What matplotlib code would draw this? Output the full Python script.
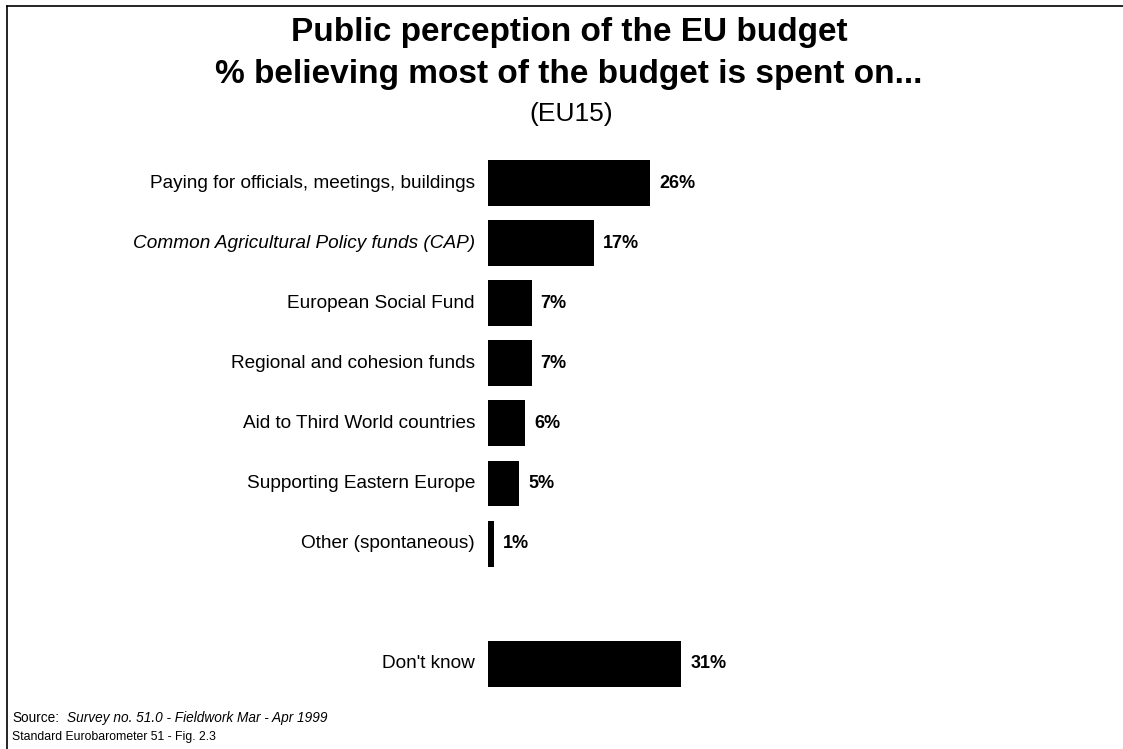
import matplotlib
matplotlib.use("Agg")
import matplotlib.pyplot as plt
from matplotlib.lines import Line2D

categories = [
    "Paying for officials, meetings, buildings",
    "Common Agricultural Policy funds (CAP)",
    "European Social Fund",
    "Regional and cohesion funds",
    "Aid to Third World countries",
    "Supporting Eastern Europe",
    "Other (spontaneous)",
    "Don't know",
]
values = [26, 17, 7, 7, 6, 5, 1, 31]
slots = [0, 1, 2, 3, 4, 5, 6, 8]
italic_labels = {"Common Agricultural Policy funds (CAP)"}

plt.rcParams["font.family"] = ["Liberation Sans", "DejaVu Sans"]

W, H = 1123, 749
fig = plt.figure(figsize=(W / 100, H / 100), dpi=100)

# axes in pixel terms: x scale ~6.23 px per percent, rows ~60.1 px apart
px_per_pct = 6.23
row = 60.1
left_px = 488
top_px = 183 - row * 0.5
n_rows = 9
ax = fig.add_axes([left_px / W, 1 - (top_px + row * n_rows) / H,
                   100 * px_per_pct / W, row * n_rows / H])
ax.set_xlim(0, 100)
ax.set_ylim(n_rows - 0.5, -0.5)
ax.axis("off")

ax.barh(slots, values, height=0.765, color="black", left=0)

for s, v, c in zip(slots, values, categories):
    ax.text(v + 1.45, s, f"{v}%", ha="left", va="center",
            fontsize=13, fontweight="bold")
    ax.text(-2.1, s, c, ha="right", va="center", fontsize=13.7,
            style="italic" if c in italic_labels else "normal")

# titles
fig.text(569 / W, 1 - 32 / H, "Public perception of the EU budget",
         ha="center", va="center", fontsize=24, fontweight="bold")
fig.text(569 / W, 1 - 75 / H, "% believing most of the budget is spent on...",
         ha="center", va="center", fontsize=24, fontweight="bold")
fig.text(571 / W, 1 - 114 / H, "(EU15)", ha="center", va="center", fontsize=19)

# source notes
fig.text(12 / W, 1 - 718 / H, "Source:", ha="left", va="center", fontsize=9.8)
fig.text(67 / W, 1 - 718 / H, "Survey no. 51.0 - Fieldwork Mar - Apr 1999",
         ha="left", va="center", fontsize=9.8, style="italic")
fig.text(12 / W, 1 - 737 / H, "Standard Eurobarometer 51 - Fig. 2.3",
         ha="left", va="center", fontsize=8.8)

# frame lines (top and left)
fig.add_artist(Line2D([7 / W, 1.0], [1 - 6 / H, 1 - 6 / H], color="black", lw=1.2))
fig.add_artist(Line2D([7 / W, 7 / W], [1 - 6 / H, 0.0], color="black", lw=1.2))

fig.savefig("out.png", dpi=100)
